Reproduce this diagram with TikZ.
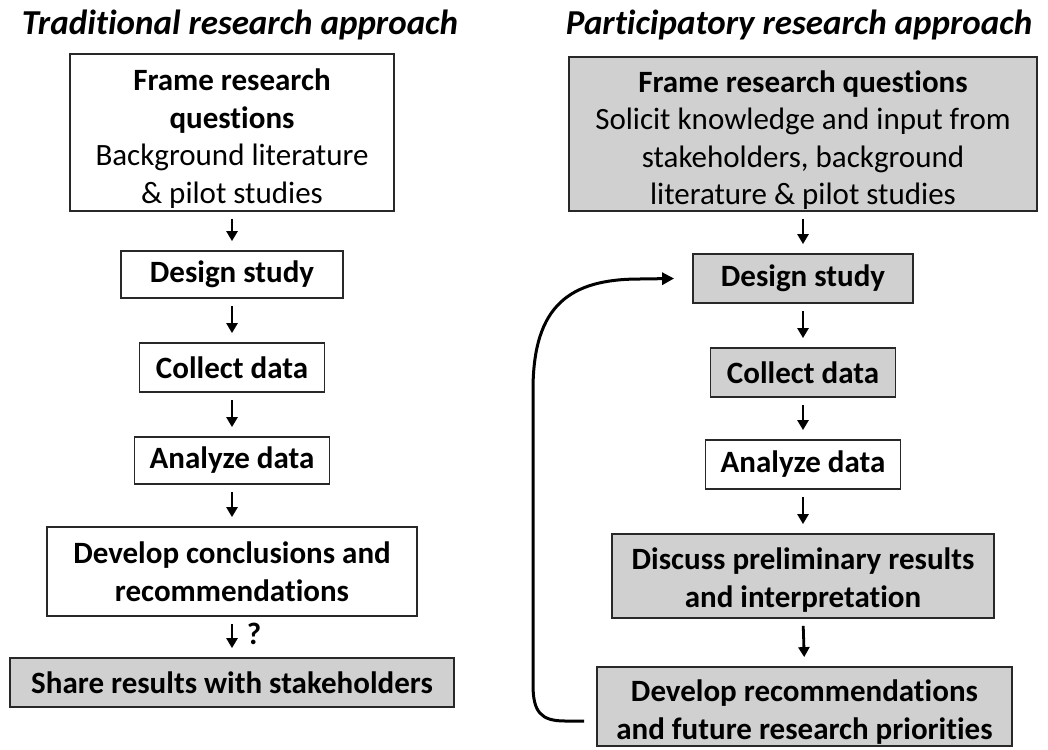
\documentclass[tikz,border=0pt]{standalone}
\usepackage{fontspec}
\setmainfont{Carlito}[Ligatures=NoCommon]
\usetikzlibrary{arrows.meta}
\definecolor{boxgray}{RGB}{208,208,208}
\definecolor{edgegray}{RGB}{40,40,40}
\newcommand\tstrut[1]{\rule{0pt}{#1}}
\tikzset{
  box/.style={draw=edgegray, line width=1.8pt, fill=white, inner sep=0pt, align=center,
    font=\fontsize{31}{37.5}\selectfont},
  graybox/.style={box, fill=boxgray},
  ttl/.style={font=\fontsize{35}{40}\selectfont\bfseries\itshape, inner sep=0pt, anchor=base},
  flow/.style={line width=2.8pt, -{Triangle[length=10pt,width=11pt]}, shorten <=7pt, shorten >=9pt},
  back/.style={line width=3pt, -{Triangle[length=12pt,width=12pt]}},
}
\begin{document}
\begin{tikzpicture}[x=1pt,y=-1pt]
\useasboundingbox (0,0) rectangle (1048,749);
% titles
\node[ttl] (TL) at (240,35) {Traditional research approach};
\node[ttl] (TR) at (799,35) {Participatory research approach};
% left column
\node[box, minimum width=324pt, minimum height=157pt] (L1) at (232,132.5)
  {\tstrut{34pt}\textbf{Frame research}\\\textbf{questions}\\Background literature\\\& pilot studies};
\node[box, minimum width=222pt, minimum height=47pt] (L2) at (232,274.5) {\textbf{Design study}};
\node[box, minimum width=185pt, minimum height=49pt] (L3) at (232,367.5) {\textbf{Collect data}};
\node[box, minimum width=195pt, minimum height=47pt] (L4) at (232,460.5) {\textbf{Analyze data}};
\node[box, minimum width=370pt, minimum height=89pt] (L5) at (232,571.5)
  {\textbf{Develop conclusions and}\\\textbf{recommendations}};
\node[graybox, minimum width=444pt, minimum height=49pt] (L6) at (232,682.5)
  {\textbf{Share results with stakeholders}};
\node[font=\fontsize{31}{36}\selectfont\bfseries, inner sep=0pt] (Q) at (254,634) {?};
\draw[flow] (L1.south) -- (L2.north);
\draw[flow] (L2.south) -- (L3.north);
\draw[flow] (L3.south) -- (L4.north);
\draw[flow] (L4.south) -- (L5.north);
\draw[flow] (L5.south) -- (L6.north);
% right column
\node[graybox, minimum width=468pt, minimum height=154pt] (R1) at (803,134)
  {\tstrut{34pt}\textbf{Frame research questions}\\Solicit knowledge and input from\\stakeholders, background\\literature \& pilot studies};
\node[graybox, minimum width=220pt, minimum height=49pt] (R2) at (803,278.5) {\textbf{Design study}};
\node[graybox, minimum width=185pt, minimum height=49pt] (R3) at (803,372.5) {\textbf{Collect data}};
\node[box, minimum width=195pt, minimum height=49pt] (R4) at (803,464.5) {\textbf{Analyze data}};
\node[graybox, minimum width=382pt, minimum height=84pt] (R5) at (803,576)
  {\tstrut{30pt}\textbf{Discuss preliminary results}\\\textbf{and interpretation}};
\node[graybox, minimum width=415pt, minimum height=79pt] (R6) at (804.5,706.5)
  {\tstrut{33pt}\textbf{Develop recommendations}\\\textbf{and future research priorities}};
\draw[flow] (R1.south) -- (R2.north);
\draw[flow] (R2.south) -- (R3.north);
\draw[flow] (R3.south) -- (R4.north);
\draw[flow] (R4.south) -- (R5.north);
\draw[flow] (R5.south) -- (R6.north);
% feedback loop
\coordinate (fbS) at ([xshift=-12pt,yshift=-14.5pt]R6.west);
\coordinate (fbE) at ([xshift=-18pt]R2.west);
\draw[back] (fbS) -- (565,721) .. controls (541,721) and (533,712) .. (533,685)
  -- (533,390) .. controls (533,305) and (570,279) .. (640,279) -- (fbE);
\end{tikzpicture}
\end{document}
